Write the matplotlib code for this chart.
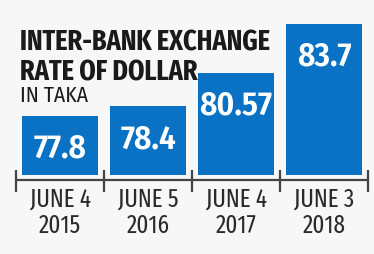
import matplotlib.pyplot as plt

months = ["JUNE 4", "JUNE 5", "JUNE 4", "JUNE 3"]
years = ["2015", "2016", "2017", "2018"]
rates = [77.8, 78.4, 80.57, 83.7]
value_labels = ["77.8", "78.4", "80.57", "83.7"]

BLUE = "#0a72c4"
DARK = "#2a2a2a"
XCOND = ["Fira Sans Extra Condensed", "Barlow Condensed", "DejaVu Sans"]
COND = ["Fira Sans Condensed", "Barlow Semi Condensed", "DejaVu Sans"]
BASE = 74.0

fig = plt.figure(figsize=(3.74, 2.54), dpi=100, facecolor="#f7f7f7")
ax = fig.add_axes([0, 0, 1, 1])
ax.set_facecolor("#f7f7f7")

x = list(range(len(rates)))
ax.bar(x, [r - BASE for r in rates], bottom=BASE, width=0.864, color=BLUE)
for xi, r, lab in zip(x, rates, value_labels):
    ax.annotate(lab, (xi, r), xytext=(0, -30), textcoords="offset points",
                ha="center", va="baseline", color="white", fontsize=24,
                fontweight="semibold", family=COND)

# axis line with boundary ticks
ax.plot([-0.5, 3.5], [73.68, 73.68], color="#444444", lw=1.6, solid_capstyle="butt")
for b in [-0.5, 0.5, 1.5, 2.5, 3.5]:
    ax.plot([b, b], [74.32, 72.92], color="#444444", lw=1.6, solid_capstyle="butt")

for xi, m, y in zip(x, months, years):
    ax.text(xi, 71.95, m, ha="center", va="baseline", fontsize=18, color=DARK, family=XCOND)
    ax.text(xi, 70.28, y, ha="center", va="baseline", fontsize=18, color=DARK, family=XCOND)

ax.set_xlim(-0.682, 3.568)
ax.set_ylim(68.94, 85.22)
ax.axis("off")

fig.text(0.053, 0.803, "INTER-BANK EXCHANGE", ha="left", va="baseline",
         fontsize=20.5, fontweight="bold", color="#1a1a1a", family=XCOND)
fig.text(0.053, 0.685, "RATE OF DOLLAR", ha="left", va="baseline",
         fontsize=20.5, fontweight="bold", color="#1a1a1a", family=XCOND)
fig.text(0.053, 0.598, "IN TAKA", ha="left", va="baseline", fontsize=15.5,
         color="#1a1a1a", family=COND)

fig.savefig("out.png", dpi=100, facecolor=fig.get_facecolor())
